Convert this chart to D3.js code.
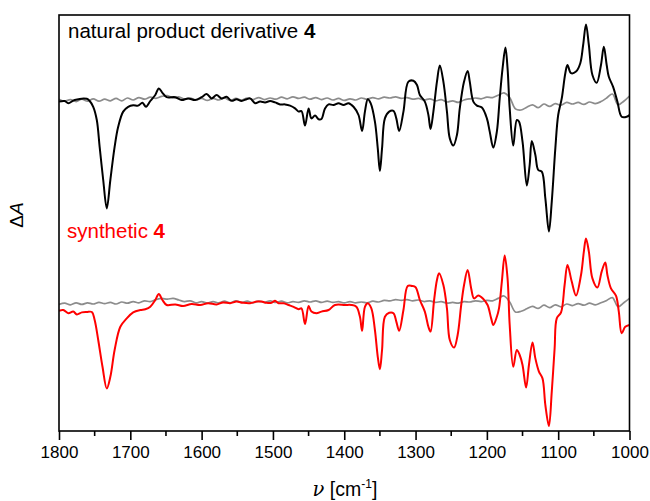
<!DOCTYPE html>
<html>
<head>
<meta charset="utf-8">
<script src="https://cdn.jsdelivr.net/npm/d3@7"></script>
<style>
  body { margin: 0; background: #fff; }
  svg text { font-family: "Liberation Sans", Arial, sans-serif; }
</style>
</head>
<body>
<svg id="chart" width="650" height="501"></svg>
<script>
// wavenumber ticks (cm-1)
var majorTicks = [1800, 1700, 1600, 1500, 1400, 1300, 1200, 1100, 1000];
var minorTicks = [1750, 1650, 1550, 1450, 1350, 1250, 1150, 1050];

// VCD of natural product derivative 4: [wavenumber, dA]
var naturalSpectrum = [
  [1800,-0.4],[1792,-0.25],[1787,-0.8],[1778,0],[1761,0.3],[1757,-0.25],[1752,-1.7],[1747,-5],[1743,-11.7],
  [1738,-20],[1733,-27.1],[1728,-20],[1722,-11.7],[1717,-6.7],[1710,-2.9],[1703,-1.7],[1696,-1.3],[1689,-1.4],
  [1683,-0.7],[1678,-1.7],[1672,-0.25],[1665,1.25],[1660,2.9],[1655,1.8],[1649,0.7],[1637,0.7],[1628,0],
  [1619,0.4],[1609,0],[1600,0.7],[1593,1.5],[1586,0.4],[1579,1.25],[1572,0.4],[1565,0.8],[1558,-0.2],
  [1551,0.2],[1544,-0.25],[1537,0.2],[1532,0.4],[1525,-0.8],[1518,-0.4],[1511,-0.6],[1504,-0.25],[1497,-0.6],
  [1490,-1.1],[1483,-1.1],[1476,-1.4],[1469,-2.1],[1464,-2.9],[1460,-2.75],[1455,-6.4],[1450,-2.1],[1446,-4.6],
  [1441,-3.9],[1436,-4.8],[1432,-4.75],[1427,-2.1],[1422,-1.1],[1415,-1.25],[1408,-0.8],[1401,-1.25],[1394,-0.8],
  [1387,-1.7],[1380,-3.75],[1375,-7.75],[1371,-2.9],[1367,0.2],[1363,-0.8],[1357,-5.4],[1353,-12.1],[1350,-17.75],
  [1347,-12.1],[1343,-4.6],[1337,-2.9],[1331,-2.7],[1327,-4.6],[1323,-7.75],[1317,-2.9],[1310,4.6],[1303,4.8],
  [1298,3.75],[1294,1.25],[1287,-0.4],[1282,-3.75],[1279,-7.25],[1275,-2.9],[1270,4.6],[1266,8.6],[1261,4.6],
  [1256,-2.9],[1252,-9.6],[1247,-11.4],[1242,-8.75],[1238,-2.1],[1232,4.6],[1227,7.25],[1224,4.6],[1219,-0.4],
  [1214,-1.4],[1207,-1.9],[1200,-4.6],[1196,-7.9],[1191,-11.9],[1186,-7.9],[1182,0.4],[1178,7.9],[1174,13.1],
  [1171,7.9],[1168,-2.1],[1163,-11.4],[1158,-5],[1155,-5.4],[1150,-10.4],[1144,-21.4],[1140,-16.25],[1137,-10.25],
  [1132,-13.75],[1128,-17.5],[1123,-17.9],[1118,-24.6],[1113,-32.9],[1109,-25.4],[1104,-12.1],[1100,-3.75],
  [1095,0.4],[1090,6.7],[1087,8.75],[1082,6.7],[1075,7.1],[1069,9.2],[1065,13.75],[1061,18.9],[1057,13.75],
  [1052,6.25],[1046,4.3],[1040,8.75],[1036,13.3],[1032,8.75],[1029,5.8],[1023,3.3],[1017,-0.4],[1011,-4.2],
  [1004,-4.2],[1000,-3.75]
];

// VCD of synthetic 4
var syntheticSpectrum = [
  [1800,-1.7],[1794,-1.5],[1787,-2.3],[1780,-1.9],[1775,-2.6],[1768,-2.1],[1761,-2],[1754,-2],[1750,-4],
  [1745,-9],[1739,-15.7],[1733,-21.1],[1728,-18.2],[1722,-11.5],[1714,-5.7],[1705,-3.6],[1696,-2.1],[1686,-1.5],
  [1679,-1.3],[1672,-0.7],[1665,1],[1660,2.5],[1655,1],[1649,-0.25],[1637,-0.1],[1626,-0.5],[1614,0],
  [1602,-0.25],[1591,0.2],[1579,-0.1],[1570,0.4],[1560,0.2],[1551,0.6],[1542,0.3],[1532,0.2],[1523,0.6],
  [1516,0.6],[1509,0.3],[1502,0.3],[1497,0.8],[1492,0.2],[1485,0.2],[1478,-0.25],[1471,-0.7],[1464,-1.3],
  [1460,-1.1],[1455,-5],[1450,-0.5],[1446,-1.9],[1439,-2.3],[1432,-1.9],[1422,-1.5],[1413,-0.25],[1399,-0.25],
  [1390,-0.25],[1383,-0.7],[1378,-3.2],[1375,-6.7],[1371,-0.7],[1367,0.2],[1362,-1.1],[1357,-6.5],[1353,-13.2],
  [1350,-16.3],[1347,-11.5],[1343,-3.2],[1337,-2.2],[1331,-2.3],[1327,-4.4],[1323,-6.7],[1317,-1.5],[1311,4.5],
  [1305,4.5],[1300,4.2],[1294,1],[1287,-1.9],[1282,-5.7],[1279,-6.9],[1274,1],[1270,6],[1267,7.7],[1261,4.75],
  [1256,-1.1],[1252,-9],[1246,-10.9],[1241,-7.75],[1236,-0.25],[1232,4.75],[1227,8.5],[1222,3.9],[1218,1.4],
  [1212,2.1],[1205,1.25],[1199,-0.25],[1194,-3.6],[1191,-5.25],[1186,-3.2],[1183,-1.1],[1179,5.6],[1175,12.1],
  [1171,6.4],[1168,-5.25],[1163,-15.7],[1158,-11.5],[1154,-12.75],[1150,-15.25],[1145,-20.9],[1141,-15.25],
  [1136,-9.6],[1132,-13.6],[1127,-16.9],[1122,-18.6],[1118,-25.25],[1113,-30.5],[1109,-21.9],[1105,-11.1],
  [1102,-3.6],[1096,-2.1],[1091,4.75],[1087,9.75],[1081,5.6],[1075,2.1],[1068,7.25],[1064,13.1],[1061,16.4],
  [1057,13.1],[1052,6.4],[1045,4.1],[1039,8.1],[1034,10.4],[1031,7.25],[1026,3.9],[1019,2.1],[1015,-1.9],
  [1011,-7.3],[1006,-5.7],[1000,-5.25]
];

// noise traces (grey), sampled every 8 cm-1 from 1800 down to 1000
var noiseWavenumbers = d3.range(1800, 999, -8);
var naturalNoise = [
  0.2,-0.3,0.1,-0.4,0.2,-0.3,0.3,-0.3,0.2,-0.2,0.4,-0.2,0.5,0,0.6,0.2,0.7,0.4,0.9,1.1,
  0.5,0.8,0.2,0.5,0,0.4,-0.1,0.4,0,0.5,-0.1,0.4,0,0.5,0.1,0.6,0.1,0.5,0.2,0.7,
  0.3,0.8,0.4,0.7,0.2,0.6,0.1,0.5,0,0.4,-0.1,0.3,0,0.5,0.2,0.6,0.3,0.7,0.5,0.8,
  0.4,0.6,0.2,0.4,0,0.3,-0.2,0.1,-0.5,-0.2,-0.6,0,0.3,0.5,0.3,0.7,0.6,1.2,1.8,0.6,
  -2.2,-2.5,-1.8,-1.2,-1.9,-1.0,-1.6,-0.9,-1.3,-0.6,-1.0,-0.6,-1.1,-0.5,-0.9,-0.4,0.5,1.5,-1.2,-0.3,
  1.0
];
var syntheticNoise = [
  -0.1,0.2,-0.2,0.3,-0.1,0.3,0,0.4,0.1,0.4,0,0.5,0.2,0.6,0.3,0.8,0.6,1.1,1.4,1.2,
  1.4,1.0,0.6,0.8,0.3,0.6,0.2,0.6,0.3,0.7,0.3,0.8,0.4,0.7,0.3,0.7,0.4,0.8,0.4,0.7,
  0.3,0.6,0.4,0.8,0.5,0.8,0.4,0.7,0.4,0.6,0.3,0.6,0.3,0.5,0.3,0.7,0.5,0.9,0.8,1.1,
  0.9,1.1,0.8,1.0,0.6,0.8,0.4,0.6,0.2,0.4,0.2,0.6,0.5,0.8,0.6,0.9,0.8,1.4,2.0,0.5,
  -2.0,-1.8,-1.2,-0.6,-1.1,-0.3,-0.9,-0.2,-0.7,0,-0.4,0.1,-0.3,0.2,-0.2,0.3,0.9,1.6,-0.7,0.3,
  1.4
];

// vertical offsets of the two stacked panels
var naturalOffset = 25;
var syntheticOffset = -26;

var svg = d3.select('#chart');
var margin = {left: 59, right: 20.5, top: 15, bottom: 70};
var width = 650 - margin.left - margin.right;
var height = 501 - margin.top - margin.bottom;

var x = d3.scaleLinear().domain([1800, 1000]).range([margin.left, margin.left + width]);
var y = d3.scaleLinear().domain([-57.75, 46.25]).range([margin.top + height, margin.top]);

svg.append('clipPath').attr('id', 'plot-clip')
  .append('rect')
  .attr('x', margin.left).attr('y', margin.top)
  .attr('width', width).attr('height', height);

function drawSpectrum (points, offset, color, lineWidth) {
  var line = d3.line()
    .x(function (d) { return x(d[0]); })
    .y(function (d) { return y(d[1] + offset); })
    .curve(d3.curveCatmullRom.alpha(0.5));
  svg.append('path')
    .datum(points)
    .attr('clip-path', 'url(#plot-clip)')
    .attr('fill', 'none')
    .attr('stroke', color)
    .attr('stroke-width', lineWidth)
    .attr('stroke-linejoin', 'round')
    .attr('d', line);
}

function pairNoise (values) {
  var n = Math.min(values.length, noiseWavenumbers.length);
  var pts = [];
  for (var i = 0; i < n; i++) {
    pts.push([noiseWavenumbers[i], values[i]]);
  }
  return pts;
}

drawSpectrum(pairNoise(naturalNoise), naturalOffset, '#8c8c8c', 1.7);
drawSpectrum(pairNoise(syntheticNoise), syntheticOffset, '#8c8c8c', 1.7);
drawSpectrum(naturalSpectrum, naturalOffset, '#000', 2);
drawSpectrum(syntheticSpectrum, syntheticOffset, '#ff0000', 2);

// frame
svg.append('rect')
  .attr('x', margin.left).attr('y', margin.top)
  .attr('width', width).attr('height', height)
  .attr('fill', 'none')
  .attr('stroke', '#000')
  .attr('stroke-width', 1.6);

// bottom axis
var axis = svg.append('g')
  .attr('transform', 'translate(0,' + (margin.top + height) + ')')
  .call(d3.axisBottom(x).tickValues(majorTicks).tickFormat(d3.format('d'))
    .tickSize(9).tickSizeOuter(0).tickPadding(6));
axis.select('.domain').remove();
axis.selectAll('.tick line').attr('stroke', '#000').attr('stroke-width', 1.6);
axis.selectAll('.tick text')
  .attr('font-size', '17px')
  .attr('fill', '#000')
  .style('font-family', '"Liberation Sans", Arial, sans-serif');

svg.append('g')
  .selectAll('line')
  .data(minorTicks)
  .enter().append('line')
  .attr('x1', function (d) { return x(d); })
  .attr('x2', function (d) { return x(d); })
  .attr('y1', margin.top + height)
  .attr('y2', margin.top + height + 5)
  .attr('stroke', '#000')
  .attr('stroke-width', 1.6);

// axis titles
var xLabel = svg.append('text')
  .attr('x', 345).attr('y', 496)
  .attr('text-anchor', 'middle')
  .attr('font-size', '19.5px');
xLabel.append('tspan').attr('font-style', 'italic')
  .style('font-family', '"DejaVu Serif", "Liberation Serif", serif').text('\u03bd');
xLabel.append('tspan').text(' [cm');
xLabel.append('tspan').attr('font-size', '12px').attr('dy', -8).text('-1');
xLabel.append('tspan').attr('dy', 8).text(']');

var yLabel = svg.append('text')
  .attr('transform', 'translate(23,215) rotate(-90)')
  .attr('text-anchor', 'middle')
  .attr('font-size', '19px');
yLabel.append('tspan').text('\u0394');
yLabel.append('tspan').attr('font-style', 'italic').text('A');

// panel labels
var naturalLabel = svg.append('text')
  .attr('x', 68).attr('y', 38)
  .attr('font-size', '20.5px')
  .attr('fill', '#000');
naturalLabel.append('tspan').text('natural product derivative ');
naturalLabel.append('tspan').attr('font-weight', 'bold').text('4');

var syntheticLabel = svg.append('text')
  .attr('x', 67).attr('y', 238)
  .attr('font-size', '20.5px')
  .attr('fill', '#ff0000');
syntheticLabel.append('tspan').text('synthetic ');
syntheticLabel.append('tspan').attr('font-weight', 'bold').text('4');
</script>
</body>
</html>
